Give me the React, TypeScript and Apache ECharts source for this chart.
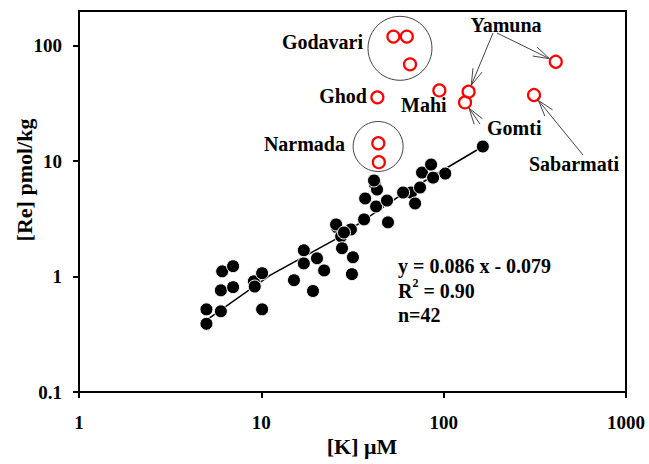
import React, { useEffect, useRef } from 'react';
import * as echarts from 'echarts';

// Black points: river dissolved K (µM) vs Re (pmol/kg)
const kRiver = [5.0, 5.0, 6.0, 6.0, 6.1, 7.0, 7.0, 9.1, 10.1, 10.1, 15.1, 19.2, 17.1, 17.1, 20.2, 22.1, 26.0, 27.4, 27.7, 31.0, 31.8, 31.4, 36.6, 37.1, 42.0, 43.1, 42.6, 48.9, 49.5, 66.3, 69.7, 74.2, 76.1, 85.3, 102, 164, 87.5, 59.9, 41.5, 9.2, 25.7, 28.4];
const reRiver = [0.39, 0.52, 0.50, 0.76, 1.11, 1.23, 0.81, 0.91, 1.07, 0.52, 0.93, 0.75, 1.69, 1.30, 1.44, 1.13, 2.67, 2.23, 1.76, 2.56, 1.47, 1.05, 3.13, 4.75, 6.28, 5.68, 4.05, 4.56, 2.95, 5.35, 4.30, 5.91, 7.97, 9.35, 7.81, 13.4, 7.2, 5.35, 6.8, 0.82, 2.83, 2.41];

// Red open circles (excluded rivers)
const redNames = ['Godavari', 'Godavari', 'Godavari', 'Ghod', 'Narmada', 'Narmada', 'Mahi', 'Yamuna', 'Gomti', 'Yamuna', 'Sabarmati'];
const kRed = [53, 62.8, 65.4, 43.3, 43.8, 44.1, 94.7, 137, 131, 412, 313];
const reRed = [120, 120, 69, 35.7, 14.3, 9.8, 41, 40, 32.3, 72.6, 37.4];

// Trend line
const trendK = [5.0, 11.2, 25.9, 57.7, 164];
const trendRe = [0.42, 1.03, 2.13, 5.04, 13.4];

const xTicks = [1, 10, 100, 1000];
const yTicks = [0.1, 1, 10, 100];

const FONT = '"Liberation Serif", "Times New Roman", serif';

export default function App() {
  const ref = useRef<HTMLDivElement>(null);
  useEffect(() => {
    document.body.style.margin = '0';
    const chart = echarts.init(ref.current!, null, { renderer: 'svg' });
    const labelFmt = (list: number[]) => (v: number) => {
      const r = +Number(v).toPrecision(3);
      return list.some((t) => Math.abs(t - r) / t < 1e-6) ? String(r) : '';
    };
    const axisCommon = {
      type: 'log',
      logBase: 10,
      axisLine: { show: true, lineStyle: { color: '#000', width: 2 } },
      axisTick: { show: true, inside: false, length: 6, lineStyle: { color: '#000', width: 2 } },
      splitLine: { show: false },
      minorTick: { show: false },
    };
    chart.setOption({
      animation: false,
      grid: { left: 79, top: 11, right: 23, bottom: 72, show: true, borderColor: '#000', borderWidth: 2, backgroundColor: 'transparent' },
      xAxis: {
        ...axisCommon,
        min: 1,
        max: 1000,
        axisLabel: { margin: 21, color: '#000', fontSize: 19, fontWeight: 'bold', fontFamily: FONT, formatter: labelFmt(xTicks) },
      },
      yAxis: {
        ...axisCommon,
        min: 0.1,
        max: 200,
        axisLabel: { margin: 17, color: '#000', fontSize: 19, fontWeight: 'bold', fontFamily: FONT, formatter: labelFmt(yTicks), showMaxLabel: false },
      },
      series: [
        {
          type: 'line',
          data: trendK.map((k, i) => [k, trendRe[i]]),
          symbol: 'none',
          lineStyle: { color: '#000', width: 1.5 },
          z: 2,
          silent: true,
        },
        {
          type: 'scatter',
          data: kRiver.map((k, i) => [k, reRiver[i]]),
          symbol: 'circle',
          symbolSize: 13,
          itemStyle: { color: '#000', borderColor: '#fff', borderWidth: 1, opacity: 1 },
          z: 3,
          silent: true,
        },
        {
          type: 'scatter',
          name: 'excluded',
          data: kRed.map((k, i) => ({ name: redNames[i], value: [k, reRed[i]] })),
          symbol: 'circle',
          symbolSize: 12,
          itemStyle: { color: 'rgba(0,0,0,0)', borderColor: '#ff0000', borderWidth: 2.2, opacity: 1 },
          z: 4,
          silent: true,
        },
      ],
    });

    const toPx = (k: number, r: number) => chart.convertToPixel({ gridIndex: 0 }, [k, r]) as number[];
    const gray = '#444';
    const graphics: any[] = [];

    // cover tick at the axis max (top-left corner)
    graphics.push({ type: 'rect', shape: { x: 64, y: 6, width: 14, height: 10 }, style: { fill: '#fff' }, z: 100 });

    // rings around groups
    const rings = [
      { c: [57.6, 95], r: 32 },
      { c: [43.7, 13.4], r: 25 },
    ];
    rings.forEach((g) => {
      const p = toPx(g.c[0], g.c[1]);
      graphics.push({ type: 'circle', shape: { cx: p[0], cy: p[1], r: g.r }, style: { fill: 'none', stroke: gray, lineWidth: 1 }, z: 50 });
    });

    // arrows from labels to points
    const arrows = [
      { tail: [493, 33], idx: 7 },
      { tail: [497, 33], idx: 9 },
      { tail: [480, 124], idx: 8 },
      { tail: [583, 155], idx: 10 },
    ];
    arrows.forEach((a) => {
      const c = toPx(kRed[a.idx], reRed[a.idx]);
      const dx = a.tail[0] - c[0];
      const dy = a.tail[1] - c[1];
      const len = Math.hypot(dx, dy);
      const ux = dx / len;
      const uy = dy / len;
      const tip = [c[0] + ux * 7, c[1] + uy * 7];
      graphics.push({ type: 'line', shape: { x1: a.tail[0], y1: a.tail[1], x2: tip[0], y2: tip[1] }, style: { stroke: gray, lineWidth: 1 }, z: 50 });
      const ang = (17 * Math.PI) / 180;
      [ang, -ang].forEach((t) => {
        const bx = ux * Math.cos(t) - uy * Math.sin(t);
        const by = ux * Math.sin(t) + uy * Math.cos(t);
        graphics.push({ type: 'line', shape: { x1: tip[0], y1: tip[1], x2: tip[0] + bx * 17, y2: tip[1] + by * 17 }, style: { stroke: gray, lineWidth: 1 }, z: 50 });
      });
    });

    const txt = (text: string, x: number, y: number, align: string, size = 20, extra: any = {}) => ({
      type: 'text',
      x,
      y,
      z: 60,
      style: { text, fill: '#000', font: `bold ${size}px ${FONT}`, textAlign: align, textVerticalAlign: 'middle', ...extra },
    });

    graphics.push(txt('Godavari', 363, 42, 'right'));
    graphics.push(txt('Ghod', 367, 96, 'right'));
    graphics.push(txt('Narmada', 345, 144, 'right'));
    graphics.push(txt('Mahi', 401, 104.5, 'left'));
    graphics.push(txt('Yamuna', 506, 25, 'center'));
    graphics.push(txt('Gomti', 487, 128, 'left'));
    graphics.push(txt('Sabarmati', 529, 164, 'left'));

    graphics.push(txt('y = 0.086 x - 0.079', 398, 266, 'left'));
    graphics.push({
      type: 'text',
      x: 398,
      y: 289,
      z: 60,
      style: {
        text: '{a|R}{s|2}{a| = 0.90}',
        textAlign: 'left',
        textVerticalAlign: 'middle',
        rich: {
          a: { fontSize: 20, fontWeight: 'bold', fontFamily: FONT, color: '#000', lineHeight: 24, verticalAlign: 'bottom' },
          s: { fontSize: 12, fontWeight: 'bold', fontFamily: FONT, color: '#000', lineHeight: 12, verticalAlign: 'top' },
        },
      },
    });
    graphics.push(txt('n=42', 398, 315, 'left'));

    graphics.push(txt('[K] μM', 362, 446, 'center', 22));
    graphics.push({
      type: 'text',
      x: 24,
      y: 180,
      rotation: Math.PI / 2,
      z: 60,
      style: { text: '[Re] pmol/kg', fill: '#000', font: `bold 22px ${FONT}`, textAlign: 'center', textVerticalAlign: 'middle' },
    });

    chart.setOption({ graphic: graphics });

    return () => chart.dispose();
  }, []);
  return <div ref={ref} style={{ width: 649, height: 464 }} />;
}
